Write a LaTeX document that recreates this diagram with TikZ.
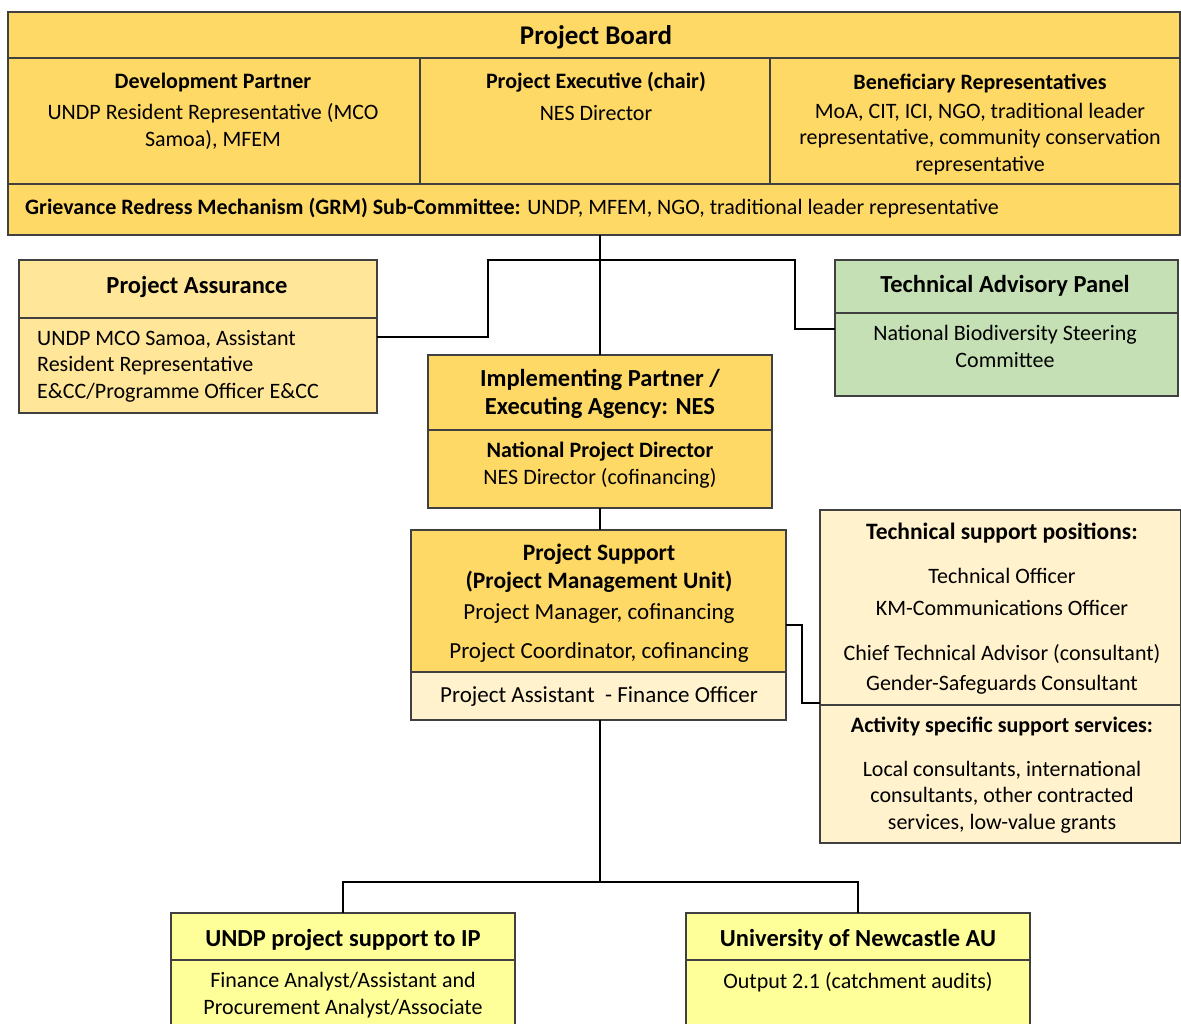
\documentclass[tikz,border=0pt]{standalone}
\usepackage{fontspec}
\setmainfont{Carlito}
\usepackage{tikz}

\definecolor{boardgold}{HTML}{FFD966}
\definecolor{assurancegold}{HTML}{FFE699}
\definecolor{advisorygreen}{HTML}{C5E0B4}
\definecolor{supportcream}{HTML}{FFF2CC}
\definecolor{partnerlemon}{HTML}{FFFF99}

\begin{document}
\begin{tikzpicture}[
            x = 1pt, y = -1pt, % one unit per pixel, y going down
            cell/.style = {draw=black!75, line width=1.4pt, anchor=north west,
                           inner sep=0pt, outer sep=0pt}, % box of the chart
            celltext/.style = {font=\fontsize{22}{26.5}\selectfont, align=center,
                               inner sep=0pt, anchor=base}, % plain text, placed at its last line
            cellhead/.style = {celltext, font=\bfseries\fontsize{22}{26.5}\selectfont}, % sub heading
            celltitle/.style = {celltext, font=\bfseries\fontsize{24.5}{28}\selectfont}, % box title
            link/.style = {draw=black, line width=1.5pt} % connector
        ]
\useasboundingbox (0,0) rectangle (1181,1023);

% project board
\node[cell, fill=boardgold, minimum width=1172pt, minimum height=46pt] (board) at (8,12) {};
\node[cell, fill=boardgold, minimum width=412pt, minimum height=126pt] (devpartner) at (8,58) {};
\node[cell, fill=boardgold, minimum width=350pt, minimum height=126pt] (executive) at (420,58) {};
\node[cell, fill=boardgold, minimum width=410pt, minimum height=126pt] (beneficiary) at (770,58) {};
\node[cell, fill=boardgold, minimum width=1172pt, minimum height=51pt] (grm) at (8,184) {};

\node[celltitle, font=\bfseries\fontsize{27}{30}\selectfont] (boardlbl) at (596,44.5) {Project Board};
\node[celltext] (devlbl) at (213,146) {\textbf{Development Partner}\\[4.5pt]
    UNDP Resident Representative (MCO\\ Samoa), MFEM};
\node[celltext] (executivelbl) at (596,120) {\textbf{Project Executive (chair)}\\[5.5pt] NES Director};
\node[celltext] (beneficiarylbl) at (980,171) {\textbf{Beneficiary Representatives}\\[2.5pt]
    MoA, CIT, ICI, NGO, traditional leader\\ representative, community conservation\\ representative};
\node[celltext, anchor=base west] (grmlbl) at (25,214) {\textbf{Grievance Redress Mechanism (GRM) Sub-Committee:}
    UNDP, MFEM, NGO, traditional leader representative};

% project assurance
\node[cell, fill=assurancegold, minimum width=358pt, minimum height=58pt] (assurance) at (19,260) {};
\node[cell, fill=assurancegold, minimum width=358pt, minimum height=95pt] (assurancebody) at (19,318) {};
\node[celltitle] (assurancelbl) at (197,293) {Project Assurance};
\node[celltext, anchor=base west, align=left] (assurancetxt) at (37,398) {UNDP MCO Samoa, Assistant\\
    Resident Representative\\ E\&CC/Programme Officer E\&CC};

% technical advisory panel
\node[cell, fill=advisorygreen, minimum width=343pt, minimum height=53pt] (advisory) at (835,260) {};
\node[cell, fill=advisorygreen, minimum width=343pt, minimum height=83pt] (advisorybody) at (835,313) {};
\node[celltitle] (advisorylbl) at (1005,292) {Technical Advisory Panel};
\node[celltext] (advisorytxt) at (1005,367) {National Biodiversity Steering\\ Committee};

% implementing partner
\node[cell, fill=boardgold, minimum width=344pt, minimum height=75pt] (partner) at (428,355) {};
\node[cell, fill=boardgold, minimum width=344pt, minimum height=78pt] (partnerbody) at (428,430) {};
\node[celltitle] (partnerlbl) at (600,414) {Implementing Partner /\\ Executing Agency: NES};
\node[celltext] (partnertxt) at (600,484) {\textbf{National Project Director}\\ NES Director (cofinancing)};

% project support
\node[cell, fill=boardgold, minimum width=375pt, minimum height=142pt] (support) at (411,530) {};
\node[cell, fill=supportcream, minimum width=375pt, minimum height=48pt] (assistant) at (411,672) {};
\node[celltitle, font=\bfseries\fontsize{23.5}{28}\selectfont] (supportlbl) at (599,588)
    {Project Support\\ (Project Management Unit)};
\node[celltext, font=\fontsize{23}{27}\selectfont] (supporttxt) at (599,658)
    {Project Manager, cofinancing\\[12pt] Project Coordinator, cofinancing};
\node[celltext, font=\fontsize{23}{27}\selectfont] (assistantlbl) at (599,702) {Project Assistant\ \ - Finance Officer};

% technical support
\node[cell, fill=supportcream, minimum width=361pt, minimum height=195pt] (techsupport) at (820,510) {};
\node[cell, fill=supportcream, minimum width=361pt, minimum height=138pt] (activity) at (820,705) {};
\node[cellhead, font=\bfseries\fontsize{23.5}{27}\selectfont] (techsupportlbl) at (1002,539) {Technical support positions:};
\node[celltext] (techsupporttxt) at (1002,690) {Technical Officer\\[5.5pt] KM-Communications Officer\\[18.5pt]
    Chief Technical Advisor (consultant)\\[3.5pt] Gender-Safeguards Consultant};
\node[cellhead] (activitylbl) at (1002,732) {Activity specific support services:};
\node[celltext] (activitytxt) at (1002,829) {Local consultants, international\\
    consultants, other contracted\\ services, low-value grants};

% bottom partners
\node[cell, fill=partnerlemon, minimum width=344pt, minimum height=47pt] (undp) at (171,913) {};
\node[cell, fill=partnerlemon, minimum width=344pt, minimum height=80pt] (undpbody) at (171,960) {};
\node[celltitle] (undplbl) at (343,946) {UNDP project support to IP};
\node[celltext] (undptxt) at (343,1014) {Finance Analyst/Assistant and\\ Procurement Analyst/Associate};
\node[cell, fill=partnerlemon, minimum width=344pt, minimum height=47pt] (newcastle) at (686,913) {};
\node[cell, fill=partnerlemon, minimum width=344pt, minimum height=80pt] (newcastlebody) at (686,960) {};
\node[celltitle] (newcastlelbl) at (858,946) {University of Newcastle AU};
\node[celltext] (newcastletxt) at (858,988) {Output 2.1 (catchment audits)};

% connectors
\coordinate (forkL) at (488,260);
\coordinate (forkR) at (795,260);
\coordinate (split) at (600,882);

\path[link] (grm.south -| partner.north) -- (partner.north);
\path[link] ([yshift=-19pt]assurancebody.north east) -| (forkL) -- (forkR)
    |- ([yshift=-16pt]advisorybody.north west);
\path[link] (partnerbody.south) -- (partnerbody.south |- support.north);
\path[link] ([yshift=-95pt]support.north east) -- ++(16,0) |- ([yshift=2pt]techsupport.south west);
\path[link] (assistant.south -| split) -- (split);
\path[link] (undp.north) |- (split) -| (newcastle.north);
\end{tikzpicture}
\end{document}
